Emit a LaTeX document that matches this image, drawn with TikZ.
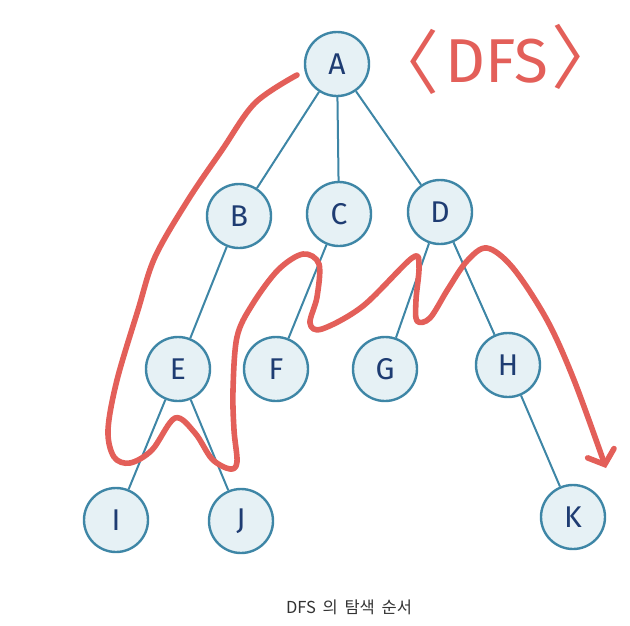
\documentclass[tikz,border=0pt]{standalone}
\usepackage{fontspec}
\setmainfont{Fira Sans}
\newfontfamily\krfont{Noto Sans CJK KR}
\usetikzlibrary{arrows.meta,backgrounds}
\definecolor{edgeblue}{HTML}{3E86A6}
\definecolor{nodefill}{HTML}{E6F1F5}
\definecolor{letterblue}{HTML}{1E3C72}
\definecolor{pathred}{HTML}{E35F59}
\definecolor{captiongray}{HTML}{333333}
\tikzset{
  vtx/.style={circle, draw=edgeblue, line width=2.4pt, fill=nodefill,
    minimum size=64pt, inner sep=0pt, text=letterblue,
    font=\fontsize{30}{30}\selectfont},
  treeedge/.style={draw=edgeblue, line width=2pt},
  trail/.style={draw=pathred, line width=5.6pt, line cap=round, line join=round},
  titletext/.style={text=pathred, font=\fontsize{62}{62}\selectfont, inner sep=0pt},
  bracket/.style={text=pathred, font=\krfont\fontsize{70}{70}\selectfont, inner sep=0pt},
}
\begin{document}
\begin{tikzpicture}[x=1pt,y=-1pt]
\useasboundingbox (0,0) rectangle (630,625);
\node[vtx] (A) at (337,64) {A};
\node[vtx] (B) at (239,216) {B};
\node[vtx] (C) at (339,214) {C};
\node[vtx] (D) at (440,212) {D};
\node[vtx] (E) at (178,369) {E};
\node[vtx] (F) at (276,369) {F};
\node[vtx] (G) at (385,369) {G};
\node[vtx] (H) at (508,365) {H};
\node[vtx] (I) at (116,520) {I};
\node[vtx] (J) at (241,521) {J};
\node[vtx] (K) at (573,517) {K};
\begin{scope}[on background layer]
\draw[treeedge] (A) -- (B);
\draw[treeedge] (A) -- (C);
\draw[treeedge] (A) -- (D);
\draw[treeedge] (B) -- (E);
\draw[treeedge] (C) -- (F);
\draw[treeedge] (D) -- (G);
\draw[treeedge] (D) -- (H);
\draw[treeedge] (E) -- (I);
\draw[treeedge] (E) -- (J);
\draw[treeedge] (H) -- (K);
\end{scope}
\node[bracket] (lb) at (404,62) {〈};
\node[titletext] (title) at (497,61) {DFS};
\node[bracket] (rb) at (586,57) {〉};
\draw[trail, -{Straight Barb[length=12pt,width=28pt,line cap=round]}]
  plot[smooth, tension=0.55] coordinates {
  (297,75) (255,103) (222,150) (188,200) (155,257) (138,310) (117,380)
  (108,430) (114,457) (130,463) (152,450) (175,418) (195,433) (212,459)
  (230,469) (237,462) (234,430) (233,390) (237,337) (252,305) (278,270)
  (303,254) (319,264) (317,297) (310,323) (322,329) (363,306) (412,258)
  (419,266) (416,300) (417,321) (430,318) (448,289) (467,261) (487,248)
  (513,268) (547,320) (574,380) (606,468)};
\node[font=\krfont\fontsize{16.5}{16.5}\selectfont, text=captiongray] (cap) at (349,607) {DFS\hspace{3pt} 의\hspace{3pt} 탐색\hspace{3pt} 순서};
\end{tikzpicture}
\end{document}
